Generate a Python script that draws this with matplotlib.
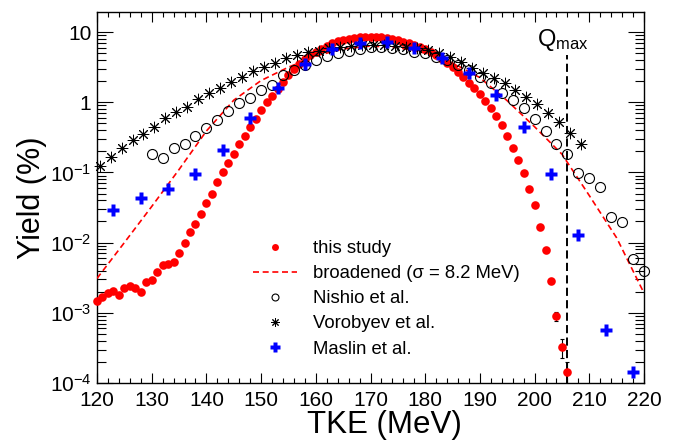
import numpy as np
import matplotlib
matplotlib.use("Agg")
import matplotlib.pyplot as plt
from matplotlib.ticker import LogLocator, NullFormatter, FuncFormatter, MultipleLocator

plt.rcParams['font.family'] = ['Liberation Sans', 'DejaVu Sans']
plt.rcParams['mathtext.fontset'] = 'custom'
plt.rcParams['mathtext.rm'] = 'Liberation Sans'
plt.rcParams['mathtext.it'] = 'Liberation Sans:italic'
plt.rcParams['mathtext.default'] = 'regular'

# ---- data ----
study_x = list(range(120, 207))
study_y = [1.46e-3, 1.66e-3, 1.92e-3, 2.07e-3, 1.78e-3, 2.24e-3, 2.42e-3, 2.29e-3, 1.95e-3, 2.75e-3,
           2.95e-3, 3.80e-3, 4.79e-3, 4.90e-3, 5.37e-3, 7.08e-3, 9.77e-3, 1.40e-2, 1.86e-2, 2.57e-2,
           3.63e-2, 5.01e-2, 7.24e-2, 0.100, 0.138, 0.184, 0.255, 0.331, 0.450, 0.578,
           0.785, 1.01, 1.24, 1.55, 1.96, 2.45, 2.95, 3.47, 4.07, 4.68,
           5.25, 5.82, 6.38, 6.92, 7.41, 7.76, 8.04, 8.32, 8.47, 8.55,
           8.57, 8.51, 8.41, 8.22, 7.94, 7.67, 7.33, 6.92, 6.53, 6.17,
           5.75, 5.25, 4.68, 4.17, 3.63, 3.16, 2.69, 2.29, 1.91, 1.58,
           1.32, 1.05, 0.832, 0.631, 0.468, 0.331, 0.224, 0.151, 0.0977, 0.0575,
           0.0339, 0.0166, 7.94e-3, 2.88e-3, 8.91e-4, 3.24e-4, 1.45e-4]
study_err_x = [204, 205, 206]
study_err_y = [8.91e-4, 3.24e-4, 1.45e-4]
study_err = [1.3e-4, 1.0e-4, 0.55e-4]

nishio_x = list(range(130, 221, 2))
nishio_y = [0.182, 0.163, 0.222, 0.253, 0.335, 0.431, 0.560, 0.745, 0.968, 1.15,
            1.51, 1.76, 2.44, 2.88, 3.39, 3.98, 4.57, 5.01, 5.37, 5.68,
            6.03, 6.03, 5.89, 5.68, 5.25, 5.01, 4.47, 3.98, 3.39, 2.88,
            2.29, 1.86, 1.35, 1.07, 0.832, 0.575, 0.389, 0.255, 0.182, 0.0977,
            0.0832, 0.0617, 0.0231, 0.0194, 5.82e-3, 3.89e-3]

vorob_x = [120.5 + 2 * i for i in range(45)]
vorob_y = [0.124, 0.168, 0.222, 0.291, 0.351, 0.450, 0.592, 0.736, 0.867, 1.10,
           1.34, 1.61, 1.96, 2.31, 2.79, 3.15, 3.67, 4.23, 4.71, 5.13,
           5.42, 5.86, 6.17, 6.31, 6.46, 6.53, 6.46, 6.31, 6.17, 5.89,
           5.50, 5.01, 4.47, 3.72, 3.05, 2.64, 2.19, 1.90, 1.50, 1.18,
           0.946, 0.711, 0.530, 0.370, 0.252]

maslin_x = list(range(123, 219, 5))
maslin_y = [0.0295, 0.0431, 0.0585, 0.0955, 0.209, 0.592, 1.61, 3.47, 5.68, 7.05,
            7.13, 5.98, 4.23, 2.57, 1.27, 0.450, 0.0955, 0.0129, 5.75e-4, 1.45e-4]

broad_x = list(range(120, 221, 5))
broad_y = [3.09e-3, 0.0100, 0.0327, 0.110, 0.389, 1.07, 2.04, 3.16, 4.57, 5.75,
           6.31, 6.03, 5.01, 3.63, 2.24, 1.05, 0.447, 0.182, 0.0468, 0.0117, 1.91e-3]

qmax = 206
labels = ["this study", "broadened (\u03c3 = 8.2 MeV)", "Nishio et al.", "Vorobyev et al.", "Maslin et al."]

# ---- figure ----
fig = plt.figure(figsize=(6.81, 4.44), dpi=100)
ax = fig.add_axes([97/681, 1-383/444, (644-97)/681, (383-11.7)/444])
ax.set_yscale('log')
ax.set_xlim(120, 220)
ax.set_ylim(1e-4, 19.5)

h_st, = ax.plot(study_x, study_y, 'o', color='#ff0000', ms=6.2, mec='none', zorder=5, clip_on=False)
ax.errorbar(study_err_x, study_err_y, yerr=study_err, fmt='none', ecolor='black', elinewidth=0.8,
            capsize=1.5, capthick=0.8, zorder=4)
h_br, = ax.plot(broad_x, broad_y, '--', color='#ff0000', lw=1.2, dashes=(3.6, 2.2), zorder=3)
h_ni, = ax.plot(nishio_x, nishio_y, 'o', mfc='none', mec='black', mew=0.8, ms=7.2, zorder=6, clip_on=False)
h_vo, = ax.plot(vorob_x, vorob_y, marker=(8, 2, 0), ls='none', color='black', mew=0.7, ms=8.2, zorder=6, clip_on=False)
h_ma, = ax.plot(maslin_x, maslin_y, 'P', color='#0000ff', mec='none', ms=8.8, zorder=7, clip_on=False)

ax.plot([qmax, qmax], [1e-4, 4.7], color='black', lw=1.4, dashes=(4.2, 2.2), zorder=2)
ax.text(qmax - 5.6, 6.3, r'Q$_{\mathregular{max}}$', fontsize=17, ha='left', va='baseline')

# ticks
ax.xaxis.set_major_locator(MultipleLocator(10))
ax.xaxis.set_minor_locator(MultipleLocator(2))
ax.yaxis.set_major_locator(LogLocator(base=10, numticks=20))
ax.yaxis.set_minor_locator(LogLocator(base=10, subs=np.arange(2, 10), numticks=20))
ax.yaxis.set_minor_formatter(NullFormatter())

def yfmt(v, pos):
    e = int(round(np.log10(v)))
    if e == 1:
        return '10'
    if e == 0:
        return '1'
    return r'$10^{%d}$' % e
ax.yaxis.set_major_formatter(FuncFormatter(yfmt))

ax.tick_params(which='both', direction='in', top=True, right=True, labelsize=15, width=0.8)
ax.tick_params(axis='x', which='major', length=7, pad=6)
ax.tick_params(axis='x', which='minor', length=3.5)
ax.tick_params(axis='y', which='major', length=11.5, pad=4)
ax.tick_params(axis='y', which='minor', length=6.5)
for s in ax.spines.values():
    s.set_linewidth(1.0)

ax.set_xlabel('TKE (MeV)', fontsize=22.5, labelpad=0)
ax.xaxis.label.set_x(0.525)
ax.set_ylabel('Yield (%)', fontsize=22, labelpad=2)

leg = ax.legend([h_st, h_br, h_ni, h_vo, h_ma], labels, loc='upper left',
                bbox_to_anchor=(253/681, 1-240/444), bbox_transform=fig.transFigure,
                frameon=False, fontsize=13.3, handlelength=2.4, handletextpad=0.86,
                labelspacing=0.44, borderpad=0, borderaxespad=0)
for hnd, msz in zip(leg.legend_handles, [5.0, None, 5.0, 6.0, 7.2]):
    if msz is not None:
        hnd.set_markersize(msz)

fig.savefig('out.png', dpi=100)
